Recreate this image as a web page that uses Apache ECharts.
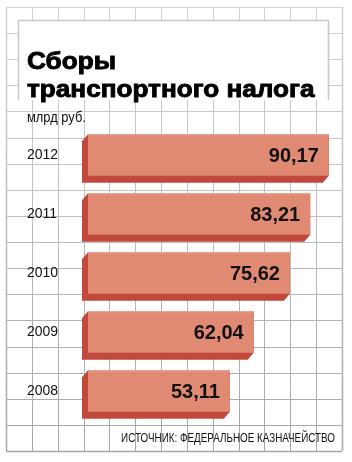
<!DOCTYPE html>
<html>
<head>
<meta charset="utf-8">
<script src="https://cdn.jsdelivr.net/npm/echarts@6/dist/echarts.min.js"></script>
<style>
  html, body { margin: 0; padding: 0; background: #fff; }
  #chart { width: 352px; height: 462px; }
</style>
</head>
<body>
<div id="chart"></div>
<script>
var years = ['2008', '2009', '2010', '2011', '2012']
var values = [53.11, 62.04, 75.62, 83.21, 90.17]
var titleLines = ['Сборы', 'транспортного налога']
var unitText = 'млрд руб.'
var sourceText = 'ИСТОЧНИК: ФЕДЕРАЛЬНОЕ КАЗНАЧЕЙСТВО'

var frontColor = '#e08a74'
var darkColor = '#c0493b'

var chart = echarts.init(document.getElementById('chart'))

// background paper grid
var paper = []
var gx0 = 6, gx1 = 342, gy0 = 7, gy1 = 451
for (var i = 0; i <= 13; i++) {
  var x = Math.round(gx0 + i * (gx1 - gx0) / 13) + 0.5
  paper.push({
    type: 'line', z: 0,
    shape: { x1: x, y1: gy0, x2: x, y2: gy1 },
    style: {
      stroke: new echarts.graphic.LinearGradient(0, 0, 0, 1, [
        { offset: 0, color: '#d2d2d2' }, { offset: 1, color: '#a6a6a6' }
      ], false),
      lineWidth: (i === 0 || i === 13) ? 1.5 : 1
    }
  })
}
for (var j = 0; j <= 17; j++) {
  var y = Math.round(gy0 + j * (gy1 - gy0) / 17) + 0.5
  var g = Math.round(0xd2 - (0xd2 - 0xa6) * j / 17)
  paper.push({
    type: 'line', z: 0,
    shape: { x1: gx0, y1: y, x2: gx1, y2: y },
    style: { stroke: 'rgb(' + g + ',' + g + ',' + g + ')', lineWidth: (j === 17) ? 1.5 : 1 }
  })
}

var titleFont = 'bold 24px "Liberation Sans", Arial, sans-serif'

chart.setOption({
  backgroundColor: '#fff',
  animation: false,
  graphic: paper.concat([
    {
      type: 'rect', z: 5,
      shape: { x: 18, y: 20, width: 311, height: 80 },
      style: { fill: '#fff' }
    },
    {
      type: 'polyline', z: 6,
      shape: { points: [[18.5, 100], [18.5, 20.5], [328.5, 20.5], [328.5, 100]] },
      style: { stroke: '#c8c8c8', lineWidth: 1.5, fill: null }
    },
    {
      type: 'text', z: 7, x: 27, y: 50, scaleX: 1.09,
      style: {
        text: titleLines[0], fill: '#000', align: 'left', verticalAlign: 'alphabetic',
        font: titleFont, stroke: '#000', lineWidth: 0.9
      }
    },
    {
      type: 'text', z: 7, x: 27, y: 78, scaleX: 1.09,
      style: {
        text: titleLines[1], fill: '#000', align: 'left', verticalAlign: 'alphabetic',
        font: titleFont, stroke: '#000', lineWidth: 0.9
      }
    },
    {
      type: 'text', z: 7, x: 27, y: 118, scaleX: 0.92,
      style: {
        text: unitText, fill: '#111', align: 'left', verticalAlign: 'middle',
        font: '14px "Liberation Sans", Arial, sans-serif'
      }
    },
    {
      type: 'text', z: 7, x: 335, y: 438, scaleX: 0.73,
      style: {
        text: sourceText, fill: '#111', align: 'right', verticalAlign: 'middle',
        font: '13.5px "Liberation Sans", Arial, sans-serif'
      }
    }
  ]),
  grid: {
    left: 88,
    right: 10.3,
    top: 125.5,
    bottom: 41.5
  },
  xAxis: {
    type: 'value',
    min: 0,
    max: 95,
    show: false
  },
  yAxis: {
    type: 'category',
    data: years,
    axisLine: { show: false },
    axisTick: { show: false },
    splitLine: { show: false },
    axisLabel: {
      align: 'left',
      margin: 61,
      color: '#111',
      fontSize: 14,
      fontFamily: '"Liberation Sans", Arial, sans-serif'
    }
  },
  series: [
    {
      type: 'custom',
      z: 10,
      encode: { x: 0, y: 1 },
      data: values.map(function (v, i) { return [v, i] }),
      renderItem: function (params, api) {
        var end = api.coord([api.value(0), api.value(1)])
        var start = api.coord([0, api.value(1)])
        var h = 41.5
        var x0 = start[0], x1 = end[0]
        var y0 = end[1] - h / 2, y1 = end[1] + h / 2
        var dx = 6, dy = 7
        var label = api.value(0).toFixed(2).replace('.', ',')
        return {
          type: 'group',
          children: [
            {
              type: 'polygon',
              shape: { points: [[x0, y0], [x1, y0], [x1, y1], [x1 - dx, y1 + dy], [x0 - dx, y1 + dy], [x0 - dx, y0 + dy]] },
              style: { fill: darkColor }
            },
            {
              type: 'rect',
              shape: { x: x0, y: y0, width: x1 - x0, height: h },
              style: { fill: frontColor }
            },
            {
              type: 'line',
              shape: { x1: x0, y1: y0 + 0.5, x2: x1, y2: y0 + 0.5 },
              style: { stroke: '#eeaa98', lineWidth: 1 }
            },
            {
              type: 'text',
              style: {
                text: label, x: x1 - 10, y: end[1] + 1,
                align: 'right', verticalAlign: 'middle',
                font: 'bold 20px "Liberation Sans", Arial, sans-serif',
                fill: '#111'
              }
            }
          ]
        }
      }
    }
  ]
})
</script>
</body>
</html>
